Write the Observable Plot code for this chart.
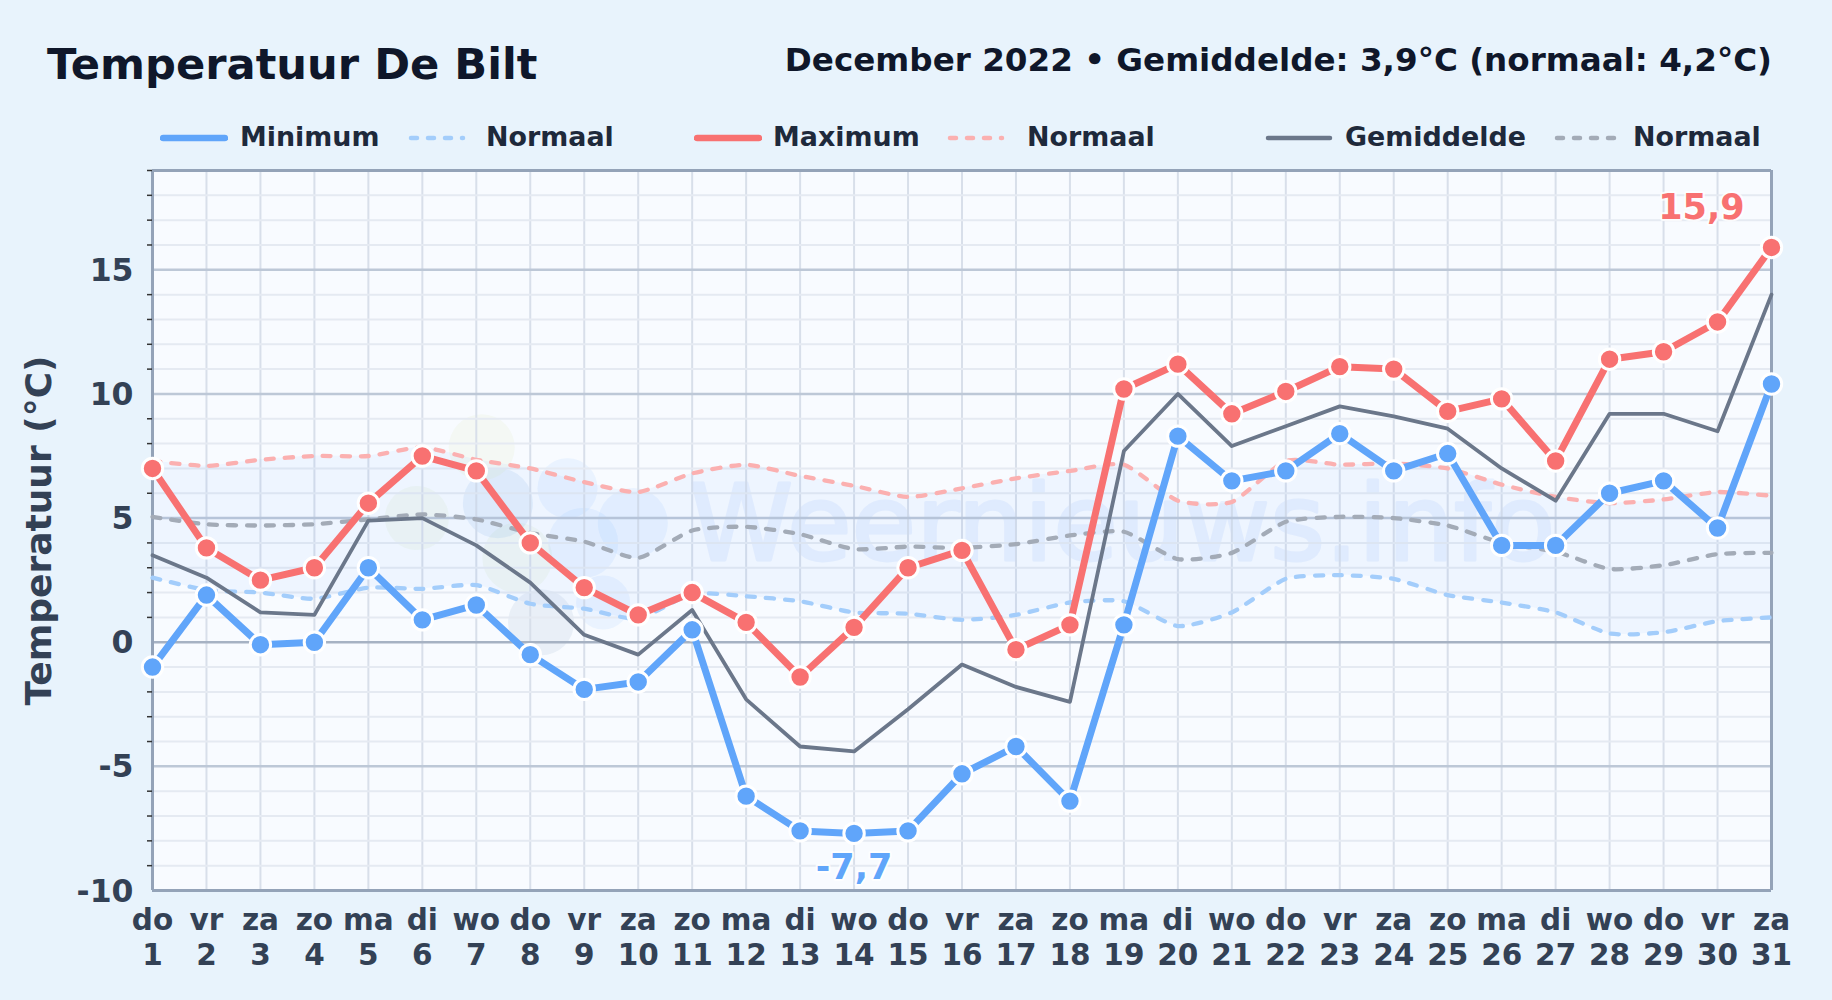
<!DOCTYPE html>
<html lang="nl">
<head>
<meta charset="utf-8">
<script src="https://cdn.jsdelivr.net/npm/d3@7"></script>
<script src="https://cdn.jsdelivr.net/npm/@observablehq/plot@0.6"></script>
<style>
html,body{margin:0;padding:0;background:#e8f3fc;font-family:"DejaVu Sans",sans-serif;}
#page{position:relative;width:1832px;height:1000px;overflow:hidden;}
#header{position:relative;height:150px;}
#title{position:absolute;left:47px;top:37px;font-size:43.2px;font-weight:700;color:#0f172a;white-space:nowrap;line-height:54px;}
#sub{position:absolute;right:60px;top:40px;font-size:32.6px;font-weight:700;color:#0f172a;white-space:nowrap;line-height:40px;}
.lg{position:absolute;top:120px;font-size:26.9px;font-weight:700;color:#1e293b;white-space:nowrap;line-height:34px;}
.sw{position:absolute;top:134px;display:block;}
#chart svg{display:block;}
</style>
</head>
<body>
<div id="page">
  <div id="header">
    <div id="title">Temperatuur De Bilt</div>
    <div id="sub">December 2022 • Gemiddelde: 3,9°C (normaal: 4,2°C)</div>
    <div id="legend"></div>
  </div>
  <div id="chart"></div>
</div>
<script>
const weekdays = ["do","vr","za","zo","ma","di","wo","do","vr","za","zo","ma","di","wo","do","vr","za","zo","ma","di","wo","do","vr","za","zo","ma","di","wo","do","vr","za"];
const minimum = [-1,1.9,-0.1,0,3,0.9,1.5,-0.5,-1.9,-1.6,0.5,-6.2,-7.6,-7.7,-7.6,-5.3,-4.2,-6.4,0.7,8.3,6.5,6.9,8.4,6.9,7.6,3.9,3.9,6,6.5,4.6,10.4];
const maximum = [7,3.8,2.5,3,5.6,7.5,6.9,4,2.2,1.1,2,0.8,-1.4,0.6,3,3.7,-0.3,0.7,10.2,11.2,9.2,10.1,11.1,11,9.3,9.8,7.3,11.4,11.7,12.9,15.9];
const gemiddelde = [3.5,2.6,1.2,1.1,4.9,5,3.9,2.4,0.3,-0.5,1.3,-2.3,-4.2,-4.4,-2.7,-0.9,-1.8,-2.4,7.7,10,7.9,8.7,9.5,9.1,8.6,7,5.7,9.2,9.2,8.5,14];
const normaalMin = [2.6,2.1,2,1.75,2.2,2.15,2.3,1.55,1.35,0.95,1.95,1.85,1.65,1.2,1.15,0.9,1.1,1.6,1.65,0.65,1.2,2.55,2.7,2.55,1.9,1.6,1.2,0.35,0.4,0.85,1];
const normaalMax = [7.3,7.1,7.35,7.5,7.5,7.85,7.35,7,6.45,6.05,6.8,7.15,6.7,6.3,5.85,6.2,6.6,6.9,7.15,5.7,5.65,7.3,7.15,7.2,7,6.35,5.85,5.6,5.75,6.05,5.9];
const normaalGem = [5.05,4.75,4.7,4.75,4.95,5.15,4.95,4.4,4.05,3.4,4.5,4.65,4.35,3.75,3.85,3.8,3.95,4.3,4.45,3.35,3.6,4.85,5.05,5,4.7,4,3.65,2.95,3.1,3.55,3.6];
const majorTicks = [-10,-5,0,5,10,15];
const minorTicks = [-9,-8,-7,-6,-4,-3,-2,-1,1,2,3,4,6,7,8,9,11,12,13,14,16,17,18,19];
const blobDay  = [7.1,5.9,7.76,8.69,7.4,9.9,8.98,9.35,8.2];
const blobTemp = [7.85,5,3.4,6.2,5.6,4.8,4,1.6,0.8];
const blobSize = [33,32,35,30,35,35,35,27,33];
const blobFill = ["#d9ecb4","#cfe5b0","#cfe5b0","#93c5fd","#7aaee0","#93c5fd","#93c5fd","#93c5fd","#8fa9c9"];
const legendText = ["Minimum","Normaal","Maximum","Normaal","Gemiddelde","Normaal"];
const legendTextX = [240,486,773,1027,1345,1633];
const legendSwatchX = [160,408,694,947,1265,1554];
const legendSwatchW = [68,58,68,58,68,66];
const legendColor = ["#60a5fa","#a3cdfb","#f87171","#fbb0b0","#6b778a","#a3abb7"];
const legendWidth = [6.5,4.5,6.5,4.5,4.5,4.5];
const legendDash = [null,"6 11",null,"6 11",null,"6 11"];

const days = weekdays.map((_, i) => i + 1);
const xy = (values) => values.map((v, i) => ({day: days[i], v}));
const band = days.map((d, i) => ({day: d, lo: normaalMin[i], hi: normaalMax[i]}));
const blobs = blobDay.map((d, i) => ({day: d, t: blobTemp[i], r: blobSize[i], fill: blobFill[i]}));

const legend = document.getElementById("legend");
legendText.forEach((t, i) => {
  const s = document.createElement("span");
  s.className = "lg"; s.style.left = legendTextX[i] + "px"; s.textContent = t;
  legend.appendChild(s);
  const ns = "http://www.w3.org/2000/svg";
  const svg = document.createElementNS(ns, "svg");
  svg.setAttribute("class", "sw");
  svg.setAttribute("width", legendSwatchW[i]); svg.setAttribute("height", 8);
  svg.style.left = legendSwatchX[i] + "px";
  const l = document.createElementNS(ns, "line");
  l.setAttribute("x1", 3); l.setAttribute("x2", legendSwatchW[i] - 3);
  l.setAttribute("y1", 4); l.setAttribute("y2", 4);
  l.setAttribute("stroke", legendColor[i]); l.setAttribute("stroke-width", legendWidth[i]);
  l.setAttribute("stroke-linecap", "round");
  if (legendDash[i]) l.setAttribute("stroke-dasharray", legendDash[i]);
  svg.appendChild(l); legend.appendChild(svg);
});

const normLine = (values, stroke) => Plot.line(xy(values), {
  x: "day", y: "v", stroke, strokeWidth: 4.3, strokeDasharray: "8 11", strokeLinecap: "round",
  curve: "cardinal", tension: 0.4
});
const dataLine = (values, stroke, strokeWidth) => Plot.line(xy(values), {x: "day", y: "v", stroke, strokeWidth});
const dots = (values, fill) => Plot.dot(xy(values), {x: "day", y: "v", r: 10.2, fill, stroke: "white", strokeWidth: 3});

const chart = Plot.plot({
  width: 1832, height: 850,
  marginTop: 20, marginBottom: 110, marginLeft: 152, marginRight: 61,
  style: {background: "transparent", fontFamily: "DejaVu Sans", overflow: "visible"},
  x: {domain: [1, 31], label: null, axis: null},
  y: {domain: [-10, 19], label: null, axis: null},
  marks: [
    Plot.frame({fill: "#f8fbff", stroke: null}),
    Plot.dot(blobs, {x: "day", y: "t", r: {value: "r", scale: null}, fill: {value: "fill", scale: null}, fillOpacity: 0.14}),
    Plot.text(["Weernieuws.info"], {x: () => 18.97, y: () => 4.65, fontSize: 105, fontWeight: 400, fill: "#3b82f6", stroke: "#3b82f6", strokeWidth: 3, opacity: 0.08}),
    Plot.ruleX(days, {stroke: "#d8dfea", strokeWidth: 2}),
    Plot.ruleY(minorTicks, {stroke: "#e5eaf2", strokeWidth: 2}),
    Plot.ruleY(majorTicks, {stroke: d => d === 0 ? "#a6b2c3" : "#bdc8d7", strokeWidth: 2.5}),
    Plot.areaY(band, {x: "day", y1: "lo", y2: "hi", fill: "#3b82f6", fillOpacity: 0.05, curve: "cardinal", tension: 0.4}),
    Plot.ruleX([1, 31], {stroke: "#94a3b8", strokeWidth: 3}),
    Plot.ruleY([-10, 19], {stroke: "#94a3b8", strokeWidth: 3}),
    Plot.axisY({ticks: minorTicks, tickSize: 5, tickFormat: () => "", stroke: "#333", strokeWidth: 1.5, label: null}),
    Plot.axisY({ticks: majorTicks, tickSize: 0, tickPadding: 19, tickFormat: d => String(d), fontSize: 31.5, fontWeight: 700, color: "#334155", label: null, dy: 1}),
    Plot.axisX({ticks: days, tickSize: 0, tickPadding: 15, tickFormat: d => `${weekdays[d - 1]}\n${d}`, fontSize: 29.5, fontWeight: 700, color: "#334155", label: null, lineHeight: 1.17}),
    Plot.text(["Temperatuur (°C)"], {frameAnchor: "left", textAnchor: "middle", dx: -113, rotate: -90, fontSize: 36, fontWeight: 700, fill: "#334155"}),
    normLine(normaalMin, "#a3cdfb"),
    normLine(normaalMax, "#fbb0b0"),
    normLine(normaalGem, "#a3abb7"),
    dataLine(gemiddelde, "#6b778a", 3.8),
    dataLine(minimum, "#60a5fa", 7),
    dots(minimum, "#60a5fa"),
    dataLine(maximum, "#f87171", 7),
    dots(maximum, "#f87171"),
    Plot.text(["15,9"], {x: () => 29.7, y: () => 17.5, fontSize: 35, fontWeight: 700, fill: "#f87171", stroke: "white", strokeWidth: 4, strokeOpacity: 0.8}),
    Plot.text(["-7,7"], {x: () => 14, y: () => -9.1, fontSize: 35, fontWeight: 700, fill: "#60a5fa", stroke: "white", strokeWidth: 4, strokeOpacity: 0.8})
  ]
});
document.getElementById("chart").appendChild(chart);
</script>
</body>
</html>
